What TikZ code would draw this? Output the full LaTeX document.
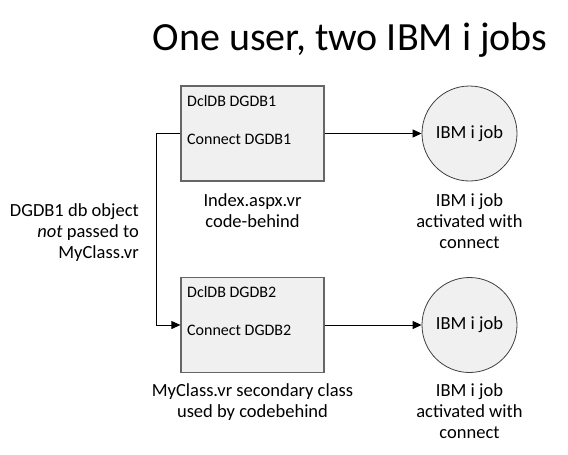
\documentclass[tikz,border=0pt]{standalone}
\usepackage{fontspec}
\setmainfont{Carlito}
\usetikzlibrary{positioning,arrows.meta}

\begin{document}
\begin{tikzpicture}[x=1pt,y=-1pt,
  codebox/.style={draw=black!60, fill=black!6, line width=1.2pt,
    minimum width=143pt, minimum height=95pt, inner sep=0pt},
  boxtext/.style={anchor=base west, inner sep=0pt, font=\fontsize{16}{19}\selectfont},
  job/.style={circle, draw=black!75, fill=black!6, line width=0.8pt,
    minimum size=95pt, inner sep=0pt, font=\fontsize{18.5}{21}\selectfont},
  caption/.style={align=center, anchor=base, inner sep=0pt, font=\fontsize{18.5}{20.7}\selectfont},
  flow/.style={-{Triangle[length=9pt,width=8pt]}, line width=0.9pt}]
  \useasboundingbox (0,0) rectangle (568,455);

  % Title
  \node[anchor=base, inner sep=0pt, font=\fontsize{40}{46}\selectfont] (title) at (350,50)
    {One user, two IBM i jobs};

  % Nodes
  \node[codebox] (box1) at (252.5,133.5) {};
  \node[codebox] (box2) at (252.5,325) {};
  \node[boxtext] (dcl1) at (187,106) {DclDB DGDB1};
  \node[boxtext] (con1) at (187,144) {Connect DGDB1};
  \node[boxtext] (dcl2) at (187,297) {DclDB DGDB2};
  \node[boxtext] (con2) at (187,335) {Connect DGDB2};
  \node[job] (job1) at (469.5,133.5) {IBM i job};
  \node[job] (job2) at (469.5,325) {IBM i job};

  % Captions (base = last line)
  \node[caption] (cap1) at (252.5,227) {Index.aspx.vr\\code-behind};
  \node[caption] (cap2) at (252.5,417) {MyClass.vr secondary class\\used by codebehind};
  \node[caption] (cap3) at (469.5,248) {IBM i job\\activated with\\connect};
  \node[caption] (cap4) at (469.5,438) {IBM i job\\activated with\\connect};
  \node[caption, align=right, anchor=base east] (note) at (139,258)
    {DGDB1 db object\\\textit{not} passed to\\MyClass.vr};

  % Edges
  \draw[flow] (box1) -- (job1);
  \draw[flow] (box2) -- (job2);
  \draw[flow] (box1.west) -- ++(-24,0) |- (box2.west);
\end{tikzpicture}
\end{document}
